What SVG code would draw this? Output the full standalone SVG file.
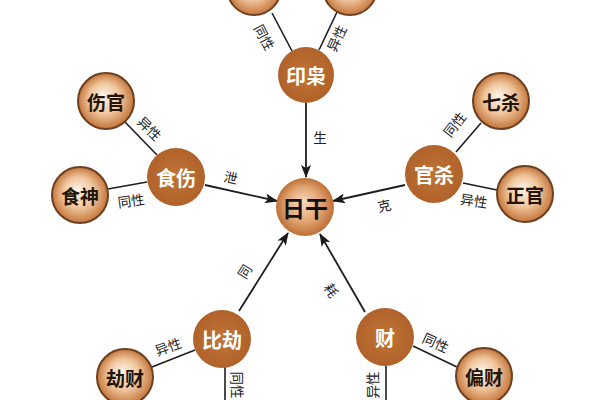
<svg xmlns="http://www.w3.org/2000/svg" width="600" height="400" viewBox="0 0 600 400">
<defs>
<radialGradient id="gOuter" cx="50%" cy="50%" r="50%" fx="45%" fy="40%">
<stop offset="0" stop-color="#fdf3e8"/>
<stop offset="0.55" stop-color="#f0c59c"/>
<stop offset="1" stop-color="#c4763c"/>
</radialGradient>
<radialGradient id="gCenter" cx="50%" cy="50%" r="50%" fx="45%" fy="40%">
<stop offset="0" stop-color="#f8dcc0"/>
<stop offset="0.6" stop-color="#e2a473"/>
<stop offset="1" stop-color="#bd7036"/>
</radialGradient>
<radialGradient id="gMain" cx="50%" cy="50%" r="50%">
<stop offset="0" stop-color="#c07536"/>
<stop offset="1" stop-color="#b0622a"/>
</radialGradient>
<marker id="arr" markerUnits="userSpaceOnUse" markerWidth="14" markerHeight="10" refX="12" refY="5" orient="auto">
<path d="M0,0 L13,5 L0,10 L3,5 z" fill="#1a1a1a"/>
</marker>
</defs>
<style>
.ln{stroke:#1e1e1e;stroke-width:1.6;fill:none}
.ar{stroke:#1e1e1e;stroke-width:1.8;fill:none;marker-end:url(#arr)}
.outer{fill:url(#gOuter);stroke:#6e4020;stroke-width:2}
.main{fill:url(#gMain)}
.center{fill:url(#gCenter)}
.tm{font-family:"Noto Sans CJK SC","Noto Sans",sans-serif;font-weight:bold;font-size:20px;fill:#ffffff;text-anchor:middle;dominant-baseline:central}
.to{font-family:"Noto Sans CJK SC","Noto Sans",sans-serif;font-weight:bold;font-size:19px;fill:#24140a;text-anchor:middle;dominant-baseline:central}
.tc{font-family:"Noto Sans CJK SC","Noto Sans",sans-serif;font-weight:bold;font-size:23px;fill:#111111;text-anchor:middle;dominant-baseline:central}
.lb{font-family:"Noto Sans CJK SC","Noto Sans",sans-serif;font-size:13.5px;fill:#222222;text-anchor:middle;dominant-baseline:central}
</style>
<rect width="600" height="400" fill="#ffffff"/>
<g id="connectors">
<line class="ln" x1="272" y1="13" x2="292" y2="51"/>
<line class="ln" x1="337" y1="12" x2="319" y2="50"/>
<line class="ar" x1="306" y1="103" x2="306" y2="177"/>
<line class="ln" x1="125" y1="122" x2="157" y2="155"/>
<line class="ln" x1="108" y1="189" x2="147" y2="182"/>
<line class="ar" x1="205" y1="185" x2="277" y2="201"/>
<line class="ln" x1="456" y1="152" x2="481" y2="123"/>
<line class="ln" x1="463" y1="183" x2="497" y2="190"/>
<line class="ar" x1="405" y1="185" x2="333" y2="201"/>
<line class="ar" x1="239" y1="311" x2="288" y2="233"/>
<line class="ln" x1="152" y1="367" x2="195" y2="350"/>
<line class="ln" x1="225" y1="367" x2="225" y2="402"/>
<line class="ar" x1="365" y1="312" x2="320" y2="234"/>
<line class="ln" x1="413" y1="346" x2="457" y2="367"/>
<line class="ln" x1="386" y1="366" x2="386" y2="402"/>
<text class="lb" transform="translate(265,37) rotate(62)">同性</text>
<text class="lb" transform="translate(336,38) rotate(-65)">异性</text>
<text class="lb" x="320" y="137">生</text>
<text class="lb" transform="translate(150,128) rotate(45)">异性</text>
<text class="lb" transform="translate(131,200) rotate(-8)">同性</text>
<text class="lb" transform="translate(231,177) rotate(13)">泄</text>
<text class="lb" transform="translate(454,124) rotate(-52)">同性</text>
<text class="lb" transform="translate(474,200) rotate(8)">异性</text>
<text class="lb" transform="translate(384,205) rotate(-12)">克</text>
<text class="lb" transform="translate(244,271) rotate(-58)">同</text>
<text class="lb" transform="translate(168,346) rotate(-20)">异性</text>
<text class="lb" transform="translate(238,385) rotate(90)">同性</text>
<text class="lb" transform="translate(372,385) rotate(-90)">异性</text>
<text class="lb" transform="translate(332,290) rotate(58)">耗</text>
<text class="lb" transform="translate(436,342) rotate(25)">同性</text>
</g>
<g id="n-top-left"><circle class="outer" cx="254" cy="-12" r="27"/></g>
<g id="n-top-right"><circle class="outer" cx="350" cy="-12" r="27"/></g>
<g id="n-yinxiao"><circle class="main" cx="306" cy="75" r="28"/><text class="tm" x="306" y="75">印枭</text></g>
<g id="n-rigan"><circle class="center" cx="305" cy="207" r="29"/><text class="tc" x="305" y="207">日干</text></g>
<g id="n-shishang"><circle class="main" cx="176" cy="177" r="29"/><text class="tm" x="176" y="177">食伤</text></g>
<g id="n-shangguan"><circle class="outer" cx="106" cy="101" r="28"/><text class="to" x="106" y="101">伤官</text></g>
<g id="n-shishen"><circle class="outer" cx="80" cy="195" r="28"/><text class="to" x="80" y="195">食神</text></g>
<g id="n-guansha"><circle class="main" cx="434" cy="174" r="29"/><text class="tm" x="434" y="174">官杀</text></g>
<g id="n-qisha"><circle class="outer" cx="501" cy="101" r="28"/><text class="to" x="501" y="101">七杀</text></g>
<g id="n-zhengguan"><circle class="outer" cx="525" cy="194" r="28"/><text class="to" x="525" y="194">正官</text></g>
<g id="n-bijie"><circle class="main" cx="222" cy="339" r="29"/><text class="tm" x="222" y="339">比劫</text></g>
<g id="n-jiecai"><circle class="outer" cx="125" cy="377" r="28"/><text class="to" x="125" y="377">劫财</text></g>
<g id="n-cai"><circle class="main" cx="385" cy="337" r="29"/><text class="tm" x="385" y="337">财</text></g>
<g id="n-piancai"><circle class="outer" cx="484" cy="376" r="28"/><text class="to" x="484" y="376">偏财</text></g>
</svg>
